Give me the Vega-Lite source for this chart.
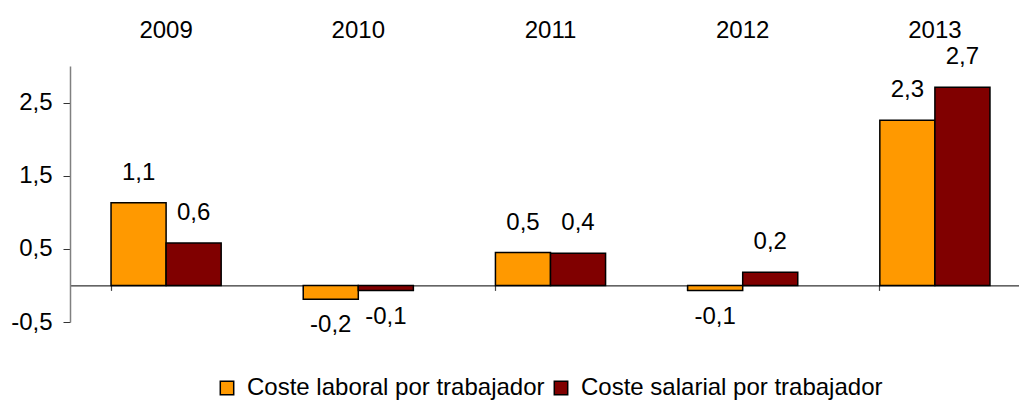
{
  "$schema": "https://vega.github.io/schema/vega-lite/v6.json",
  "autosize": {"type": "none"},
  "width": 949,
  "height": 256,
  "padding": {"left": 70, "top": 66, "right": 0, "bottom": 79},
  "background": "white",
  "config": {
    "view": {"stroke": null},
    "font": "Liberation Sans",
    "locale": {"number": {"decimal": ",", "thousands": ".", "grouping": [3], "currency": ["", " €"], "minus": "-"}}
  },
  "data": {
    "values": [
      {"year": "2009", "serie": "Coste laboral por trabajador", "value": 1.13},
      {"year": "2009", "serie": "Coste salarial por trabajador", "value": 0.58},
      {"year": "2010", "serie": "Coste laboral por trabajador", "value": -0.19},
      {"year": "2010", "serie": "Coste salarial por trabajador", "value": -0.07},
      {"year": "2011", "serie": "Coste laboral por trabajador", "value": 0.45},
      {"year": "2011", "serie": "Coste salarial por trabajador", "value": 0.44},
      {"year": "2012", "serie": "Coste laboral por trabajador", "value": -0.07},
      {"year": "2012", "serie": "Coste salarial por trabajador", "value": 0.18},
      {"year": "2013", "serie": "Coste laboral por trabajador", "value": 2.26},
      {"year": "2013", "serie": "Coste salarial por trabajador", "value": 2.71}
    ]
  },
  "encoding": {
    "x": {
      "field": "year", "type": "nominal",
      "scale": {"type": "band", "paddingInner": 0.427, "paddingOuter": 0.2135, "range": [0, 961]}
    },
    "xOffset": {
      "field": "serie", "type": "nominal",
      "scale": {"paddingInner": 0, "paddingOuter": 0}
    },
    "y": {
      "field": "value", "type": "quantitative",
      "scale": {"domain": [-0.5, 3], "nice": false, "zero": false},
      "axis": {
        "title": null, "values": [-0.5, 0.5, 1.5, 2.5], "format": ".1f", "grid": false,
        "domainColor": "#808080", "domainWidth": 1.5, "tickColor": "#333333", "tickSize": 7,
        "labelFontSize": 24, "labelColor": "black", "labelPadding": 11, "labelFont": "Liberation Sans"
      }
    }
  },
  "layer": [
    {
      "mark": {"type": "bar", "stroke": "black", "strokeWidth": 1.5},
      "encoding": {
        "x": {
          "field": "year", "type": "nominal",
          "axis": {
            "orient": "top", "title": null, "domain": false, "ticks": false, "labelAngle": 0,
            "labelFontSize": 24, "labelColor": "black", "labelPadding": 24, "labelFont": "Liberation Sans"
          }
        },
        "color": {
          "field": "serie", "type": "nominal",
          "scale": {"domain": ["Coste laboral por trabajador", "Coste salarial por trabajador"], "range": ["#FF9900", "#800000"]},
          "legend": {
            "orient": "none", "direction": "horizontal", "title": null,
            "legendX": 145, "legendY": 310,
            "symbolType": "square", "symbolSize": 180, "symbolStrokeColor": "black", "symbolStrokeWidth": 1.5,
            "symbolOpacity": 1,
            "labelFontSize": 24, "labelColor": "black", "labelFont": "Liberation Sans",
            "labelOffset": 8, "columnPadding": 4, "labelLimit": 400
          }
        }
      }
    },
    {
      "transform": [{"filter": "datum.value >= 0"}],
      "mark": {"type": "text", "dy": -30, "baseline": "middle", "fontSize": 24, "font": "Liberation Sans", "color": "black"},
      "encoding": {
        "x": {
          "field": "year", "type": "nominal",
          "axis": {
            "orient": "bottom", "offset": -36.6, "title": null, "labels": false, "bandPosition": 0,
            "domainColor": "black", "domainWidth": 1, "tickColor": "#444444", "tickSize": 5, "tickWidth": 1.2
          }
        },
        "text": {"field": "value", "type": "quantitative", "format": ".1f"}
      }
    },
    {
      "transform": [{"filter": "datum.value < 0"}],
      "mark": {"type": "text", "dy": 26, "baseline": "middle", "fontSize": 24, "font": "Liberation Sans", "color": "black"},
      "encoding": {
        "x": {"field": "year", "type": "nominal", "axis": null},
        "text": {"field": "value", "type": "quantitative", "format": ".1f"}
      }
    }
  ],
  "resolve": {"axis": {"x": "independent"}}
}
